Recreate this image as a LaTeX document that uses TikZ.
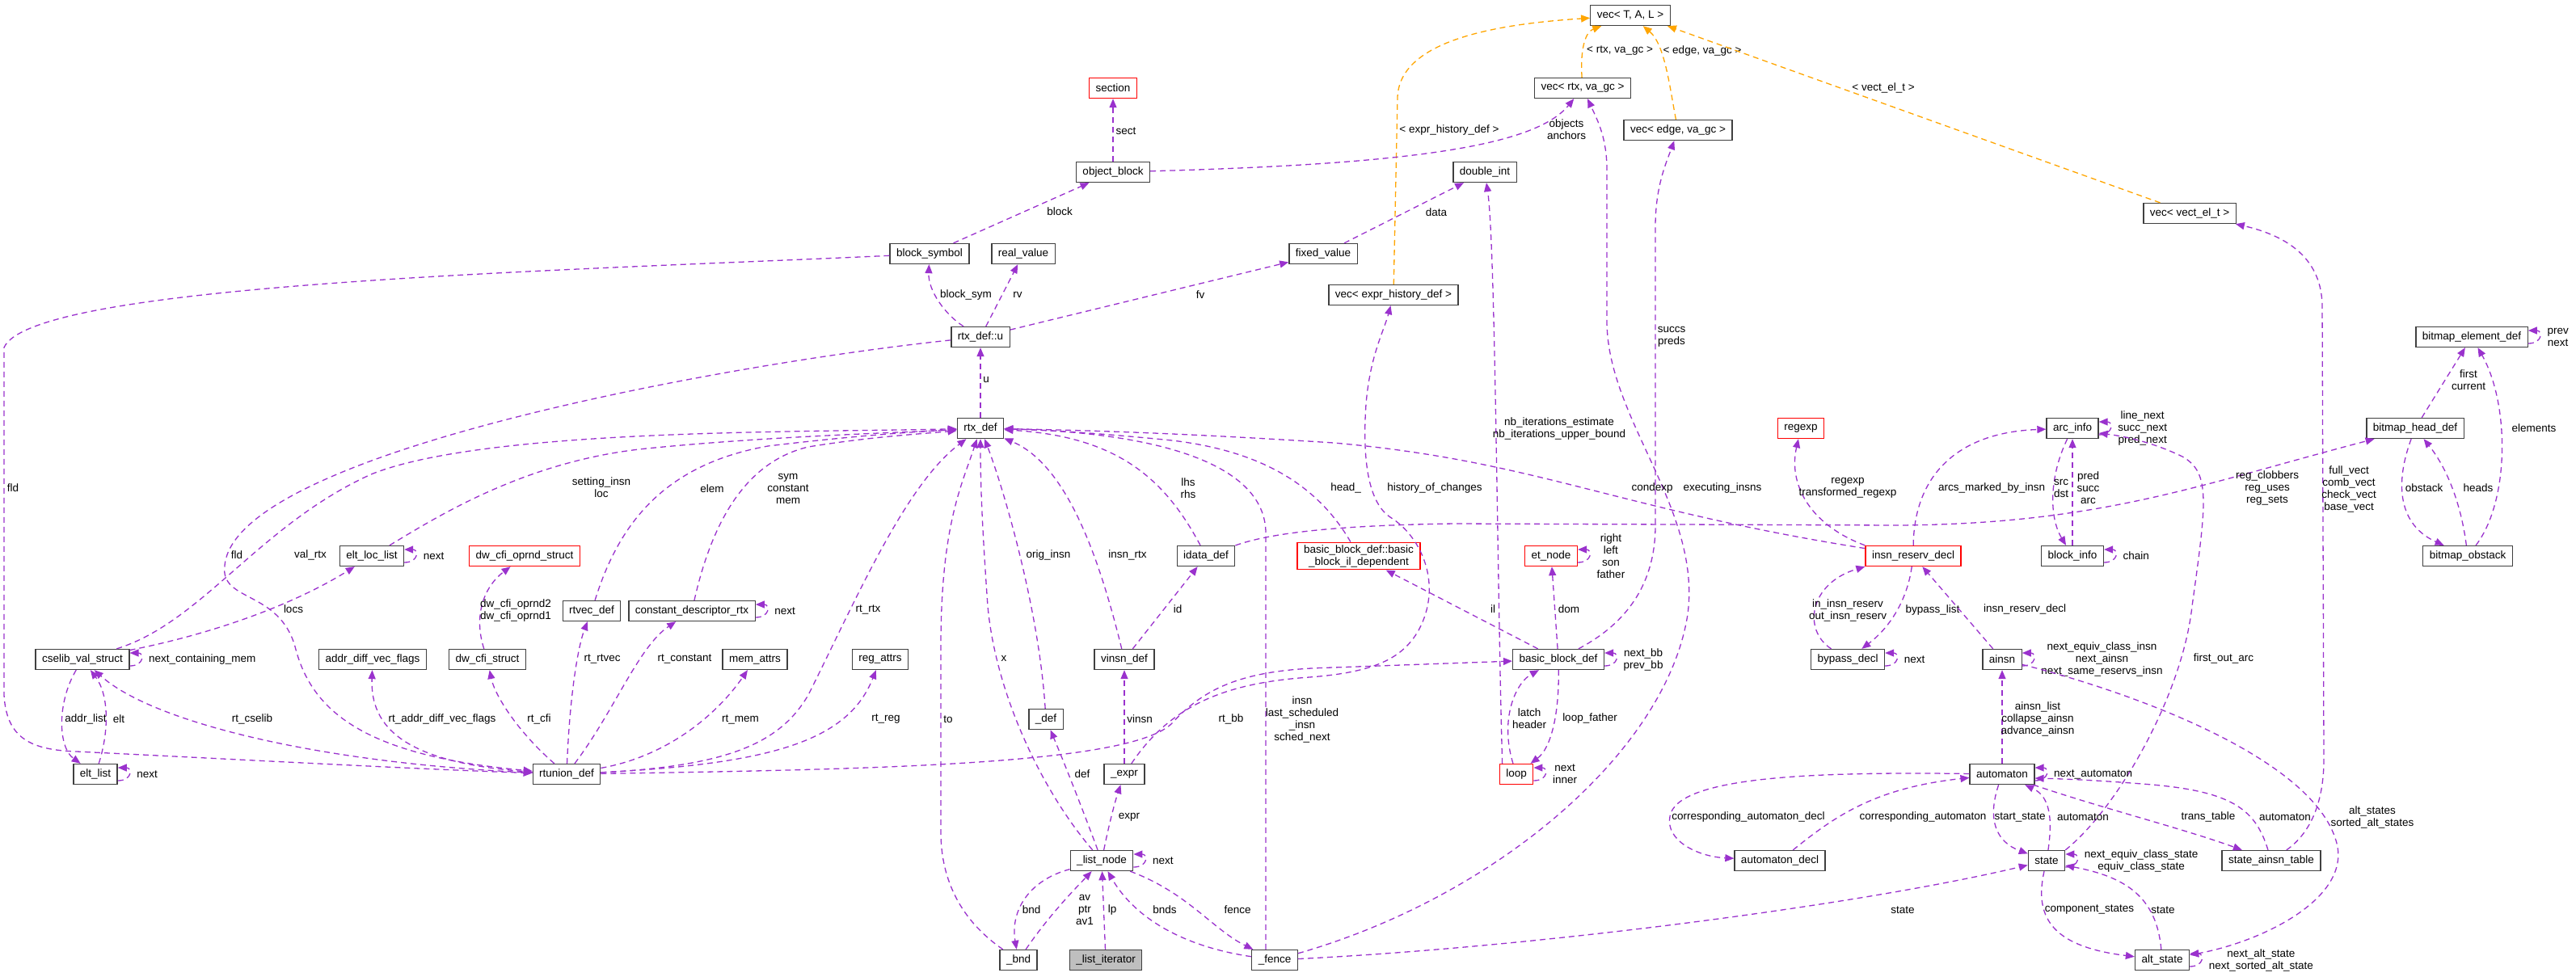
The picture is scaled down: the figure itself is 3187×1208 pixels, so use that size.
\documentclass[tikz,border=0pt]{standalone}
\usepackage{fontspec}
\setmainfont{Liberation Sans}
\usetikzlibrary{arrows.meta,positioning}
\definecolor{ink}{RGB}{64,64,64}
\definecolor{usedP}{RGB}{154,50,205}
\definecolor{tmplO}{RGB}{255,165,0}
\definecolor{curG}{RGB}{191,191,191}
\newcommand{\dxfont}{\fontsize{13.5}{15}\selectfont}
\tikzset{
  cls/.style={draw=ink,line width=1.3pt,fill=white,minimum height=25pt,
    inner xsep=8pt,inner ysep=3pt,font=\dxfont,align=center},
  nodoc/.style={cls,draw=red},
  cur/.style={cls,fill=curG},
  arr/.style={draw=usedP,line width=1.3pt,dash pattern=on 7pt off 5pt,
    -{Triangle[length=11pt,width=9pt]}},
  tpl/.style={arr,draw=tmplO},
  lbl/.style={font=\dxfont,inner sep=0pt,align=center},
}
\newcommand{\selfloop}[2]{%
  \draw[arr] ([yshift=-8pt]#1.east) .. controls +(18pt,0pt) and +(18pt,0pt) .. ([yshift=8pt]#1.east)
    node[lbl,anchor=west,at={([xshift=23pt]#1.east)}] {#2};}

\begin{document}
\begin{tikzpicture}[x=1pt,y=-1pt]
\useasboundingbox (0,0) rectangle (3187,1208);
% classes
\node[nodoc] (sec) at (1377,109) {section};
\node[cls] (objb) at (1377,213) {object\_block};
\node[cls] (blks) at (1150,314) {block\_symbol};
\node[cls] (realv) at (1266,314) {real\_value};
\node[cls] (rtxu) at (1213,417) {rtx\_def::u};
\node[cls] (fixv) at (1637,314) {fixed\_value};
\node[cls] (vecT) at (2017,19) {vec< T, A, L >};
\node[cls] (vecrtx) at (1958,109) {vec< rtx, va\_gc >};
\node[cls] (vecedge) at (2076,161) {vec< edge, va\_gc >};
\node[cls] (dint) at (1837,213) {double\_int};
\node[cls] (vecexpr) at (1724,365) {vec< expr\_history\_def >};
\node[cls] (vecvect) at (2709,264) {vec< vect\_el\_t >};
\node[cls] (bmel) at (3058,417) {bitmap\_element\_def};
\node[cls] (eltloc) at (460,688) {elt\_loc\_list};
\node[nodoc] (dwopd) at (649,688) {dw\_cfi\_oprnd\_struct};
\node[cls] (rtvec) at (732,756) {rtvec\_def};
\node[cls] (cdesc) at (856,756) {constant\_descriptor\_rtx};
\node[cls] (cselib) at (102,816) {cselib\_val\_struct};
\node[cls] (adiff) at (461,816) {addr\_diff\_vec\_flags};
\node[cls] (dwcfi) at (603,816) {dw\_cfi\_struct};
\node[cls] (eltl) at (118,958) {elt\_list};
\node[cls] (rtun) at (701,958) {rtunion\_def};
\node[cls] (rtx) at (1213,530) {rtx\_def};
\node[cls] (idata) at (1492,688) {idata\_def};
\node[cls] (memat) at (934,816) {mem\_attrs};
\node[cls] (regat) at (1089,816) {reg\_attrs};
\node[cls] (vinsn) at (1391,816) {vinsn\_def};
\node[cls] (def) at (1294,890) {\_def};
\node[cls] (expr) at (1391,958) {\_expr};
\node[cls] (lnode) at (1363,1065) {\_list\_node};
\node[cls] (bnd) at (1260,1188) {\_bnd};
\node[cur] (liter) at (1368,1188) {\_list\_iterator};
\node[cls] (fence) at (1577,1188) {\_fence};
\node[nodoc] (bbil) at (1681,688) {basic\_block\_def::basic\\\_block\_il\_dependent};
\node[nodoc] (etn) at (1919,688) {et\_node};
\node[nodoc] (regexp) at (2228,530) {regexp};
\node[nodoc] (ird) at (2367,688) {insn\_reserv\_decl};
\node[cls] (bbd) at (1928,816) {basic\_block\_def};
\node[cls] (byp) at (2286,816) {bypass\_decl};
\node[nodoc] (loop) at (1876,958) {loop};
\node[cls] (autd) at (2202,1065) {automaton\_decl};
\node[cls] (arc) at (2564,530) {arc\_info};
\node[cls] (bmhd) at (2988,530) {bitmap\_head\_def};
\node[cls] (blki) at (2564,688) {block\_info};
\node[cls] (bmob) at (3053,688) {bitmap\_obstack};
\node[cls] (ainsn) at (2477,816) {ainsn};
\node[cls] (aut) at (2477,958) {automaton};
\node[cls] (state) at (2532,1065) {state};
\node[cls] (sat) at (2810,1065) {state\_ainsn\_table};
\node[cls] (alts) at (2675,1188) {alt\_state};

% template instances
\draw[tpl] (vecrtx) .. controls (1955,65) and (1960,40) .. (vecT) node[lbl,at={(2004,63)}] {< rtx, va\_gc >};
\draw[tpl] (vecedge) .. controls (2066,110) and (2060,55) .. (vecT) node[lbl,at={(2106,63)}] {< edge, va\_gc >};
\draw[tpl] (vecexpr) -- (1729,120) .. controls (1732,50) and (1850,30) .. (vecT) node[lbl,at={(1793,161)}] {< expr\_history\_def >};
\draw[tpl] (vecvect) -- ([xshift=-4pt]vecT.south east) node[lbl,at={(2330,109)}] {< vect\_el\_t >};

% upper part
\draw[arr] (objb) -- (sec) node[lbl,at={(1393,162)}] {sect};
\draw[arr] (blks) -- (objb) node[lbl,at={(1311,262)}] {block};
\draw[arr] (objb) .. controls (1750,203) and (1900,180) .. (vecrtx) node[lbl,at={(1938,160)}] {objects\\anchors};
\draw[arr] (rtxu) .. controls (1170,390) and (1148,360) .. (blks) node[lbl,at={(1195,365)}] {block\_sym};
\draw[arr] (rtxu) -- (realv) node[lbl,at={(1259,365)}] {rv};
\draw[arr] (rtxu) -- (fixv) node[lbl,at={(1485,365)}] {fv};
\draw[arr] (fixv) -- (dint) node[lbl,at={(1777,263)}] {data};
\draw[arr] (rtx) -- (rtxu) node[lbl,at={(1220,470)}] {u};

% rtunion and friends
\draw[arr] (blks) .. controls (700,335) and (40,350) .. (5,430) -- (5,860) .. controls (8,915) and (40,928) .. (95,930) .. controls (300,940) and (520,952) .. (rtun) node[lbl,at={(16,604)}] {fld};
\draw[arr] (rtxu) .. controls (900,450) and (290,560) .. (278,700) .. controls (272,745) and (345,730) .. (365,800) .. controls (385,880) and (450,935) .. (rtun) node[lbl,at={(293,687)}] {fld};
\draw[arr] (cselib) .. controls (250,770) and (320,650) .. (459,587) .. controls (600,530) and (1000,535) .. (rtx) node[lbl,at={(384,687)}] {val\_rtx};
\draw[arr] (eltloc) .. controls (540,640) and (650,570) .. (800,555) .. controls (950,540) and (1100,536) .. (rtx) node[lbl,at={(744,603)}] {setting\_insn\\loc};
\selfloop{eltloc}{next}
\draw[arr] (cselib) .. controls (260,785) and (360,750) .. (eltloc) node[lbl,at={(363,754)}] {locs};
\draw[arr] (dwcfi) .. controls (585,760) and (600,725) .. (dwopd) node[lbl,at={(638,755)}] {dw\_cfi\_oprnd2\\dw\_cfi\_oprnd1};
\draw[arr] (rtun) .. controls (705,860) and (715,800) .. (rtvec) node[lbl,at={(745,815)}] {rt\_rtvec};
\draw[arr] (rtvec) .. controls (765,650) and (820,575) .. (950,552) .. controls (1050,540) and (1120,535) .. (rtx) node[lbl,at={(881,605)}] {elem};
\draw[arr] (cdesc) .. controls (880,650) and (920,572) .. (1000,553) .. controls (1080,540) and (1140,537) .. (rtx) node[lbl,at={(975,605)}] {sym\\constant\\mem};
\selfloop{cdesc}{next}
\draw[arr] (rtun) .. controls (760,880) and (790,800) .. (cdesc) node[lbl,at={(847,815)}] {rt\_constant};
\draw[arr] (rtun) .. controls (900,948) and (965,920) .. (1000,860) .. controls (1060,740) and (1120,600) .. (rtx) node[lbl,at={(1074,754)}] {rt\_rtx};
\draw[arr] (rtun) .. controls (830,935) and (890,880) .. (memat) node[lbl,at={(916,890)}] {rt\_mem};
\draw[arr] (rtun) .. controls (960,945) and (1050,915) .. (regat) node[lbl,at={(1096,890)}] {rt\_reg};
\draw[arr] (rtun) .. controls (500,945) and (458,900) .. (adiff) node[lbl,at={(547,890)}] {rt\_addr\_diff\_vec\_flags};
\draw[arr] (rtun) .. controls (640,905) and (612,860) .. (dwcfi) node[lbl,at={(667,890)}] {rt\_cfi};
\draw[arr] (rtun) .. controls (400,945) and (190,895) .. (cselib) node[lbl,at={(312,890)}] {rt\_cselib};
\draw[arr] (cselib) .. controls (70,870) and (72,925) .. (eltl) node[lbl,at={(106,890)}] {addr\_list};
\draw[arr] (eltl) .. controls (135,905) and (135,860) .. (cselib) node[lbl,at={(147,890)}] {elt};
\selfloop{eltl}{next}
\selfloop{cselib}{next\_containing\_mem}
\draw[arr] (rtun) .. controls (1100,952) and (1400,945) .. (1450,895) .. controls (1495,845) and (1550,828) .. (1650,826) -- (bbd) node[lbl,at={(1523,890)}] {rt\_bb};

% selective scheduler
\draw[arr] (bnd) .. controls (1190,1140) and (1164,1090) .. (1164,1030) -- (1164,800) .. controls (1164,650) and (1190,600) .. (rtx) node[lbl,at={(1173,890)}] {to};
\draw[arr] (lnode) .. controls (1290,980) and (1232,860) .. (1222,750) .. controls (1215,650) and (1213,600) .. (rtx) node[lbl,at={(1242,815)}] {x};
\draw[arr] (def) .. controls (1285,750) and (1240,600) .. (rtx) node[lbl,at={(1297,687)}] {orig\_insn};
\draw[arr] (vinsn) .. controls (1360,690) and (1320,575) .. (rtx) node[lbl,at={(1395,687)}] {insn\_rtx};
\draw[arr] (vinsn) -- (idata) node[lbl,at={(1457,754)}] {id};
\draw[arr] (idata) .. controls (1440,590) and (1380,540) .. (rtx) node[lbl,at={(1470,604)}] {lhs\\rhs};
\draw[arr] ([xshift=-11pt]fence.north) -- (1566,660) .. controls (1566,570) and (1420,535) .. (rtx) node[lbl,at={(1611,890)}] {insn\\last\_scheduled\\\_insn\\sched\_next};
\draw[arr] (expr) .. controls (1450,870) and (1520,845) .. (1620,838) .. controls (1700,832) and (1735,815) .. (1755,780) .. controls (1785,725) and (1760,665) .. (1720,640) .. controls (1690,620) and (1686,560) .. (1690,500) .. controls (1695,440) and (1712,410) .. (vecexpr) node[lbl,at={(1775,604)}] {history\_of\_changes};
\draw[arr] (fence) .. controls (1850,1110) and (2062,930) .. (2088,760) .. controls (2105,630) and (1990,520) .. (1988,400) -- (1988,210) .. controls (1988,170) and (1976,148) .. (vecrtx) node[lbl,at={(2131,604)}] {executing\_insns};
\draw[arr] (lnode) .. controls (1335,990) and (1315,940) .. (def) node[lbl,at={(1339,958)}] {def};
\draw[arr] (expr) -- (vinsn) node[lbl,at={(1410,890)}] {vinsn};
\draw[arr] (lnode) .. controls (1372,1020) and (1380,990) .. (expr) node[lbl,at={(1397,1011)}] {expr};
\selfloop{lnode}{next}
\draw[arr] (lnode) .. controls (1270,1090) and (1250,1130) .. (bnd) node[lbl,at={(1276,1126)}] {bnd};
\draw[arr] (bnd) .. controls (1300,1130) and (1330,1100) .. (lnode) node[lbl,at={(1342,1126)}] {av\\ptr\\av1};
\draw[arr] (liter) -- (lnode) node[lbl,at={(1376,1126)}] {lp};
\draw[arr] (fence) .. controls (1455,1170) and (1400,1130) .. (lnode) node[lbl,at={(1441,1126)}] {bnds};
\draw[arr] (lnode) .. controls (1470,1105) and (1500,1150) .. (fence) node[lbl,at={(1531,1126)}] {fence};

% cfg
\draw[arr] (bbil) .. controls (1630,600) and (1560,558) .. (1450,545) .. controls (1350,535) and (1290,532) .. (rtx) node[lbl,at={(1665,604)}] {head\_};
\draw[arr] (bbd) -- (bbil) node[lbl,at={(1847,754)}] {il};
\draw[arr] (bbd) -- (etn) node[lbl,at={(1941,754)}] {dom};
\selfloop{etn}{right\\left\\son\\father}
\draw[arr] (bbd) .. controls (2015,770) and (2048,720) .. (2048,650) -- (2048,280) .. controls (2048,230) and (2062,200) .. (vecedge) node[lbl,at={(2068,417)}] {succs\\preds};
\selfloop{bbd}{next\_bb\\prev\_bb}
\draw[arr] (loop) .. controls (1855,890) and (1875,845) .. (bbd) node[lbl,at={(1892,889)}] {latch\\header};
\draw[arr] (bbd) .. controls (1929,880) and (1920,925) .. (loop) node[lbl,at={(1967,889)}] {loop\_father};
\selfloop{loop}{next\\inner}
\draw[arr] ([xshift=4pt]loop.north west) .. controls (1852,700) and (1850,300) .. (dint) node[lbl,at={(1929,530)}] {nb\_iterations\_estimate\\nb\_iterations\_upper\_bound};

% automata
\draw[arr] (ird) .. controls (2000,630) and (1900,570) .. (1650,548) .. controls (1450,535) and (1320,532) .. (rtx) node[lbl,at={(2044,604)}] {condexp};
\draw[arr] (ird.north west) .. controls (2240,650) and (2212,600) .. (regexp) node[lbl,at={(2286,604)}] {regexp\\transformed\_regexp};
\draw[arr] (ird) .. controls (2368,590) and (2420,535) .. (arc) node[lbl,at={(2464,604)}] {arcs\_marked\_by\_insn};
\draw[arr] (byp) .. controls (2230,780) and (2238,722) .. (ird.south west) node[lbl,at={(2286,755)}] {in\_insn\_reserv\\out\_insn\_reserv};
\draw[arr] (ird) .. controls (2360,740) and (2340,775) .. (byp) node[lbl,at={(2391,755)}] {bypass\_list};
\selfloop{byp}{next}
\draw[arr] (ainsn) -- (ird) node[lbl,at={(2505,754)}] {insn\_reserv\_decl};
\selfloop{arc}{line\_next\\succ\_next\\pred\_next}
\draw[arr] (arc) .. controls (2535,590) and (2535,640) .. (blki) node[lbl,at={(2550,604)}] {src\\dst};
\draw[arr] (blki) -- (arc) node[lbl,anchor=west,at={(2569,604)}] {pred\\succ\\arc};
\selfloop{blki}{chain}
\draw[arr] (state.north east) .. controls (2620,1000) and (2700,860) .. (2712,750) .. controls (2730,620) and (2735,585) .. (2700,565) .. controls (2665,548) and (2630,540) .. ([yshift=-6pt]arc.east) node[lbl,at={(2751,815)}] {first\_out\_arc};
\draw[arr] (sat) .. controls (2860,1030) and (2875,990) .. (2875,940) -- (2873,380) .. controls (2873,320) and (2830,292) .. (vecvect) node[lbl,at={(2906,605)}] {full\_vect\\comb\_vect\\check\_vect\\base\_vect};
\draw[arr] (idata) .. controls (1570,660) and (1650,650) .. (1800,648) -- (2350,650) .. controls (2600,648) and (2720,600) .. (bmhd) node[lbl,at={(2805,604)}] {reg\_clobbers\\reg\_uses\\reg\_sets};
\selfloop{ainsn}{next\_equiv\_class\_insn\\next\_ainsn\\next\_same\_reservs\_insn}
\draw[arr] (aut) -- (ainsn) node[lbl,at={(2521,890)}] {ainsn\_list\\collapse\_ainsn\\advance\_ainsn};
\selfloop{aut}{next\_automaton}
\draw[arr] (sat) .. controls (2790,1000) and (2760,978) .. (2650,970) .. controls (2600,966) and (2560,964) .. ([yshift=-5pt]aut.east) node[lbl,at={(2827,1011)}] {automaton};
\draw[arr] (aut) .. controls (2600,1000) and (2700,1025) .. (sat) node[lbl,at={(2732,1011)}] {trans\_table};
\draw[arr] (aut) .. controls (2458,1015) and (2470,1042) .. (state) node[lbl,at={(2499,1011)}] {start\_state};
\draw[arr] (state) .. controls (2540,1010) and (2535,985) .. (aut) node[lbl,at={(2577,1011)}] {automaton};
\draw[arr] (autd) .. controls (2270,1010) and (2320,975) .. (aut) node[lbl,at={(2379,1011)}] {corresponding\_automaton};
\draw[arr] (aut) .. controls (2250,955) and (2075,960) .. (2066,1010) .. controls (2060,1040) and (2100,1060) .. (autd) node[lbl,at={(2163,1011)}] {corresponding\_automaton\_decl};
\draw[arr] (state) .. controls (2515,1140) and (2545,1172) .. (alts) node[lbl,at={(2585,1126)}] {component\_states};
\draw[arr] (alts) .. controls (2668,1110) and (2630,1085) .. ([yshift=-6pt]state.east) node[lbl,at={(2676,1126)}] {state};
\draw[arr] (fence) .. controls (1900,1172) and (2300,1120) .. (state) node[lbl,at={(2354,1126)}] {state};
\selfloop{state}{next\_equiv\_class\_state\\equiv\_class\_state}
\draw[arr] (ainsn) .. controls (2650,860) and (2860,940) .. (2890,1040) .. controls (2912,1110) and (2800,1165) .. (alts) node[lbl,at={(2935,1011)}] {alt\_states\\sorted\_alt\_states};
\selfloop{alts}{next\_alt\_state\\next\_sorted\_alt\_state}

% bitmaps
\draw[arr] (bmhd) -- (bmel) node[lbl,at={(3054,470)}] {first\\current};
\draw[arr] (bmob) .. controls (3105,620) and (3105,500) .. (bmel) node[lbl,at={(3135,530)}] {elements};
\draw[arr] (bmhd) .. controls (2962,600) and (2968,650) .. (bmob) node[lbl,at={(2999,604)}] {obstack};
\draw[arr] (bmob) .. controls (3045,625) and (3028,580) .. (bmhd) node[lbl,at={(3066,604)}] {heads};
\selfloop{bmel}{prev\\next}
\end{tikzpicture}
\end{document}
